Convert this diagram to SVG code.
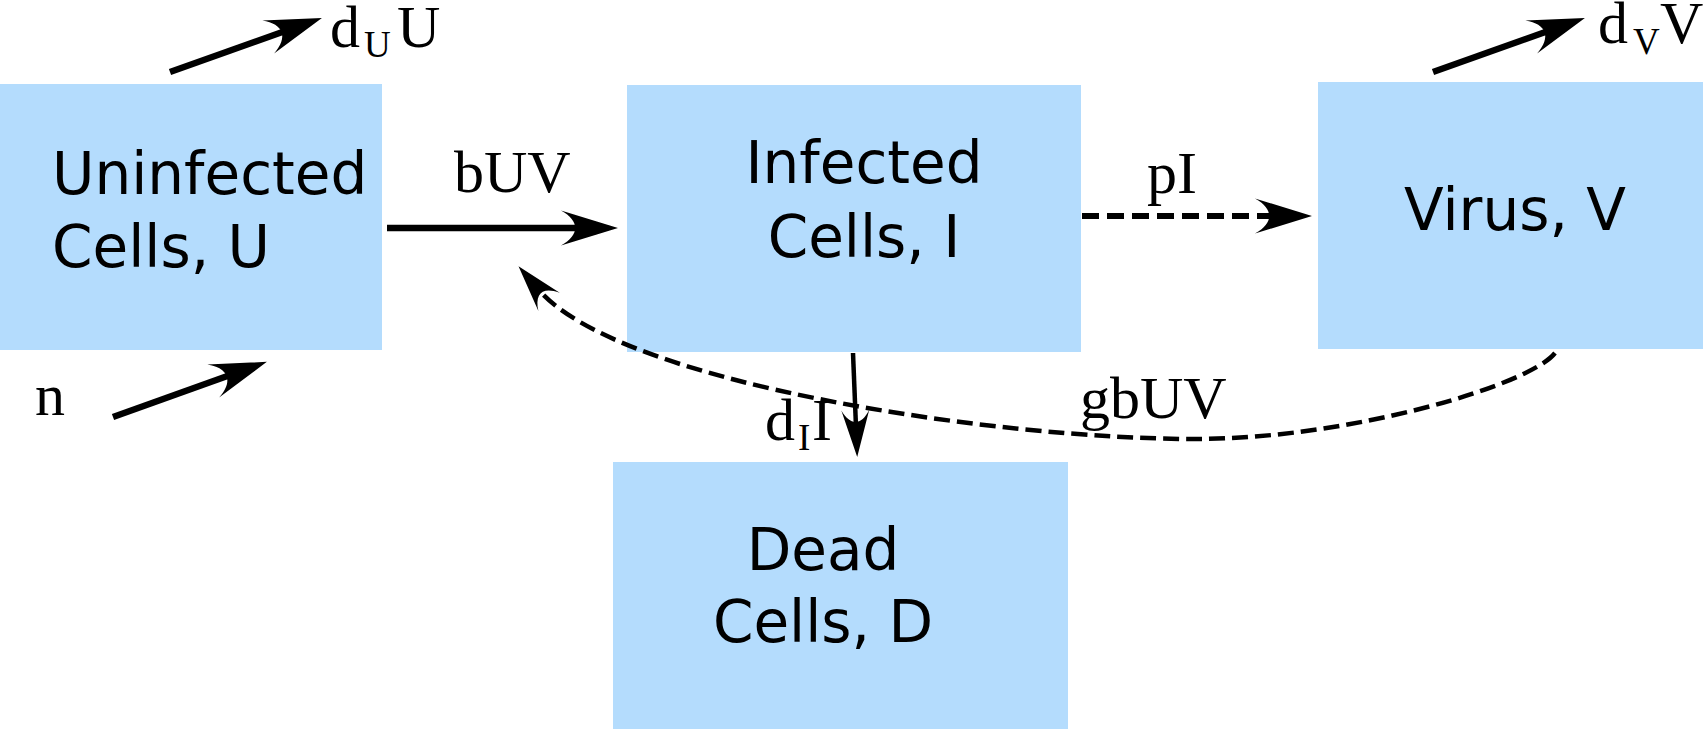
<svg xmlns="http://www.w3.org/2000/svg" width="1703" height="729" viewBox="0 0 1703 729">
<style>
.box{fill:#b4dcfd;stroke:none}
.lbl{font-family:"DejaVu Sans",sans-serif;font-size:58px;fill:#000}
.rate{font-family:"Liberation Serif",serif;font-size:60px;fill:#000}
.sub{font-size:37px}
.ln{fill:none;stroke:#000}
</style>
<defs>
<marker id="bigHead" markerUnits="userSpaceOnUse" orient="auto" markerWidth="80" markerHeight="40" refX="0" refY="0" overflow="visible">
<path d="M36,0 L-21,-17.5 C-2,-7 -2,7 -21,17.5 Z" fill="#000"/>
</marker>
<marker id="smallHead" markerUnits="userSpaceOnUse" orient="auto" markerWidth="60" markerHeight="30" refX="0" refY="0" overflow="visible">
<path d="M30,0 L-17,-14 C-1,-5.5 -1,5.5 -17,14 Z" fill="#000"/>
</marker>
</defs>
<g id="uninfected">
<rect class="box" x="0" y="84" width="382" height="266"/>
<text class="lbl" x="52" y="194">Uninfected</text>
<text class="lbl" x="52" y="267">Cells, U</text>
</g>
<g id="infected">
<rect class="box" x="627" y="85" width="454" height="267"/>
<text class="lbl" x="864" y="183" text-anchor="middle">Infected</text>
<text class="lbl" x="864" y="257" text-anchor="middle">Cells, I</text>
</g>
<g id="virus">
<rect class="box" x="1318" y="82" width="385" height="267"/>
<text class="lbl" x="1515" y="230" text-anchor="middle">Virus, V</text>
</g>
<g id="dead">
<rect class="box" x="613" y="462" width="455" height="267"/>
<text class="lbl" x="823" y="570" text-anchor="middle">Dead</text>
<text class="lbl" x="823" y="642" text-anchor="middle">Cells, D</text>
</g>
<g id="connectors">
<path class="ln" d="M170,72 L288,30" stroke-width="6.5" marker-end="url(#bigHead)"/>
<path class="ln" d="M113,417 L233,374" stroke-width="6.5" marker-end="url(#bigHead)"/>
<path class="ln" d="M1433,72 L1551,30" stroke-width="6.5" marker-end="url(#bigHead)"/>
<path class="ln" d="M387,228 L582,228" stroke-width="6.5" marker-end="url(#bigHead)"/>
<path class="ln" d="M1082,216 L1276,216" stroke-width="6" stroke-dasharray="17,8" marker-end="url(#bigHead)"/>
<path class="ln" d="M853,353 L856,427" stroke-width="4.5" marker-end="url(#smallHead)"/>
<path class="ln" d="M1555,353 C1530,385 1350,439 1195,439 C1000,439 620,385 538,289" stroke-width="4.5" stroke-dasharray="16,7" marker-end="url(#smallHead)"/>
</g>
<g id="labels">
<text class="rate" y="47"><tspan x="330">d</tspan><tspan class="sub" x="364" y="57">U</tspan><tspan x="397" y="47">U</tspan></text>
<text class="rate" x="35" y="415">n</text>
<text class="rate" y="43"><tspan x="1598">d</tspan><tspan class="sub" x="1633" y="54">V</tspan><tspan x="1660" y="43">V</tspan></text>
<text class="rate" x="454" y="192">bUV</text>
<text class="rate" x="1147" y="193">pI</text>
<text class="rate" y="440"><tspan x="765">d</tspan><tspan class="sub" x="798" y="450">I</tspan><tspan x="812" y="440">I</tspan></text>
<text class="rate" x="1080" y="418">gbUV</text>
</g>
</svg>
